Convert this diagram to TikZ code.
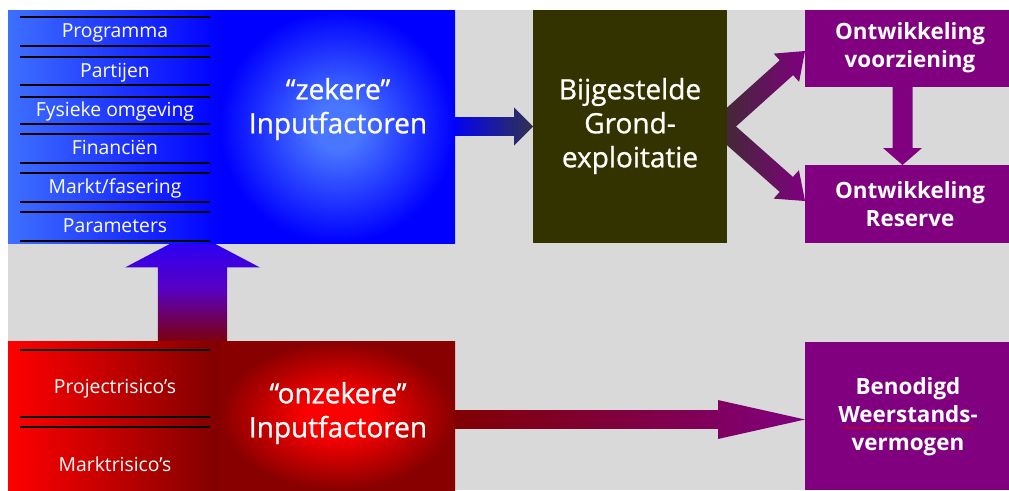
\documentclass[tikz,border=0pt]{standalone}
\usepackage{fontspec}
\setmainfont{Open Sans}
\newfontfamily\captionfont{Open Sans}[FakeBold=0.9]
\usetikzlibrary{calc,decorations.pathmorphing}

% palette
\definecolor{bggray}{RGB}{217,217,217}
\definecolor{pureblue}{RGB}{0,0,255}
\definecolor{lightblue}{RGB}{62,112,255}
\definecolor{glowblue}{RGB}{72,118,255}
\definecolor{purered}{RGB}{255,0,0}
\definecolor{darkred}{RGB}{128,0,0}
\definecolor{edgered}{RGB}{136,0,0}
\definecolor{glowred}{RGB}{250,0,0}
\definecolor{groundcol}{RGB}{51,51,0}
\definecolor{boxpurple}{RGB}{128,0,128}
\definecolor{arrowdark}{RGB}{58,46,44}
\definecolor{arrowslate}{RGB}{50,50,78}
\definecolor{upblue}{RGB}{34,0,255}
\definecolor{upmid}{RGB}{88,0,196}

% glowing centres of the two input panels
\pgfdeclareradialshading{blueglow}{\pgfpointorigin}{color(0bp)=(glowblue); color(5bp)=(glowblue); color(25bp)=(pureblue); color(50bp)=(pureblue)}
\pgfdeclareradialshading{redglow}{\pgfpointorigin}{color(0bp)=(glowred); color(7bp)=(glowred); color(25bp)=(edgered); color(50bp)=(edgered)}

% broad block arrow: name, shading, start, tip, half shaft width, half head width, head length
\newcommand{\fatarrow}[7]{%
  \coordinate (#1-b) at ($(#4)!#7!(#3)$);
  \coordinate (#1-s1) at ($(#3)!#5!90:(#4)$);
  \coordinate (#1-s2) at ($(#3)!#5!-90:(#4)$);
  \coordinate (#1-b1) at ($(#1-b)!#5!90:(#4)$);
  \coordinate (#1-b2) at ($(#1-b)!#5!-90:(#4)$);
  \coordinate (#1-h1) at ($(#1-b)!#6!90:(#4)$);
  \coordinate (#1-h2) at ($(#1-b)!#6!-90:(#4)$);
  \shade[#2] (#1-s1) -- (#1-b1) -- (#1-h1) -- (#4) -- (#1-h2) -- (#1-b2) -- (#1-s2) -- cycle;
}

\tikzset{
  box/.style={draw=none, inner sep=0pt, outer sep=0pt, anchor=north west},
  listtext/.style={text=white, anchor=base, font=\fontsize{14.5}{16}\selectfont},
  bigtext/.style={text=white, align=center, inner sep=0pt, font=\captionfont\fontsize{21}{25.5}\selectfont},
  purtext/.style={text=white, align=center, inner sep=0pt, font=\bfseries\fontsize{16.8}{21}\selectfont},
  listline/.style={line width=0.8pt, black},
}

\begin{document}
\begin{tikzpicture}[x=0.75pt, y=-0.75pt]
\useasboundingbox (0,0) rectangle (1009,490);
\fill[white] (0,0) rectangle (1009,490);
\fill[bggray] (8,10) rectangle (1009,490);

% boxes (placed first so arrows can refer to them; painted later)
\path
  node[box, minimum width=159pt, minimum height=174.75pt] (zlist) at (8,10) {}
  node[box, minimum width=176.25pt, minimum height=174.75pt] (zeker) at (220,10) {}
  node[box, minimum width=145.5pt, minimum height=174.75pt] (grond) at (533,10) {}
  node[box, minimum width=153pt, minimum height=57.75pt] (vz) at (805,10) {}
  node[box, minimum width=153pt, minimum height=58.5pt] (res) at (805,165) {}
  node[box, minimum width=159pt, minimum height=111.75pt] (olist) at (8,341) {}
  node[box, minimum width=176.25pt, minimum height=111.75pt] (onz) at (220,341) {}
  node[box, minimum width=153pt, minimum height=111pt] (wv) at (805,342) {};

% arrow end points
\coordinate (up-s) at ($(olist.north east)+(-27.5,4)$);
\coordinate (up-t) at ($(zlist.south east)+(-27.5,-11)$);
\coordinate (bo-s) at ($(zeker.east)+(-6,0)$);
\coordinate (bo-t) at (grond.west);
\coordinate (dg-s) at ($(grond.east)+(-6,0)$);
\coordinate (dg-t1) at ($(vz.west)+(0,2.5)$);
\coordinate (dg-t2) at ($(res.west)+(0,-3)$);
\coordinate (dn-s) at ($(vz.south)+(-4.5,-6)$);
\coordinate (dn-t) at ($(res.north)+(-4.5,0)$);
\coordinate (rw-s) at ($(onz.east)+(-6,4)$);
\coordinate (rw-t) at ($(wv.west)+(0,3.5)$);

% arrows
\fatarrow{up}{top color=upblue, bottom color=darkred, middle color=upmid}{up-s}{up-t}{25.9pt}{50.6pt}{26.6pt}
\fatarrow{bo}{left color=pureblue, right color=arrowslate}{bo-s}{bo-t}{7.1pt}{14.25pt}{14.25pt}
\fatarrow{da}{left color=arrowdark, right color=boxpurple}{dg-s}{dg-t1}{7.5pt}{14.25pt}{18.75pt}
\fatarrow{db}{left color=arrowdark, right color=boxpurple}{dg-s}{dg-t2}{7.5pt}{14.25pt}{18.75pt}
\fatarrow{dn}{top color=boxpurple, bottom color=boxpurple}{dn-s}{dn-t}{7.5pt}{14.6pt}{12.75pt}
\fatarrow{rw}{left color=darkred, right color=boxpurple}{rw-s}{rw-t}{7.1pt}{14.6pt}{65.25pt}

% painted boxes
\path[left color=lightblue, right color=pureblue] (zlist.north west) rectangle (zlist.south east);
\path[shading=blueglow] (zeker.north west) rectangle (zeker.south east);
\fill[groundcol] (grond.north west) rectangle (grond.south east);
\fill[boxpurple] (vz.north west) rectangle (vz.south east);
\fill[boxpurple] (res.north west) rectangle (res.south east);
\path[left color=purered, right color=darkred] (olist.north west) rectangle (olist.south east);
\path[shading=redglow] (onz.north west) rectangle (onz.south east);
\fill[boxpurple] (wv.north west) rectangle (wv.south east);

% separator rules of the two lists
\foreach \y in {17,46,57,85,97,124,134,163,173,202,212,241}
  \draw[listline] (20,\y) -- (210,\y);
\foreach \y in {350,417,427}
  \draw[listline] (20,\y) -- (210,\y);

% list entries
\node[listtext] (l1) at (115,37.5) {Programma};
\node[listtext] (l2) at (115,77) {Partijen};
\node[listtext] (l3) at (115,116) {Fysieke omgeving};
\node[listtext] (l4) at (115,154) {Financiën};
\node[listtext] (l5) at (115,193) {Markt/fasering};
\node[listtext] (l6) at (115,232) {Parameters};
\node[listtext] (r1) at (115,393) {Projectrisico’s};
\node[listtext] (r2) at (115,471) {Marktrisico’s};

% box captions
\node[bigtext] (zekertxt) at (338,109) {“zekere”\\Inputfactoren};
\node[bigtext] (onztxt) at (338,413) {“onzekere”\\Inputfactoren};
\node[bigtext] (grondtxt) at (630,126) {Bijgestelde\\Grond-\\exploitatie};
\node[purtext] (vztxt) at (910,48) {Ontwikkeling\\voorziening};
\node[purtext] (restxt) at (910,204) {Ontwikkeling\\Reserve};
\node[purtext] (wvtxt) at (908,417) {Benodigd\\Weerstands-\\vermogen};

% spelling mark under the middle word
\draw[red!85!black, line width=0.4pt, decorate,
      decoration={snake, amplitude=0.6pt, segment length=2.4pt}]
  (843,428) -- (973,428);
\end{tikzpicture}
\end{document}
